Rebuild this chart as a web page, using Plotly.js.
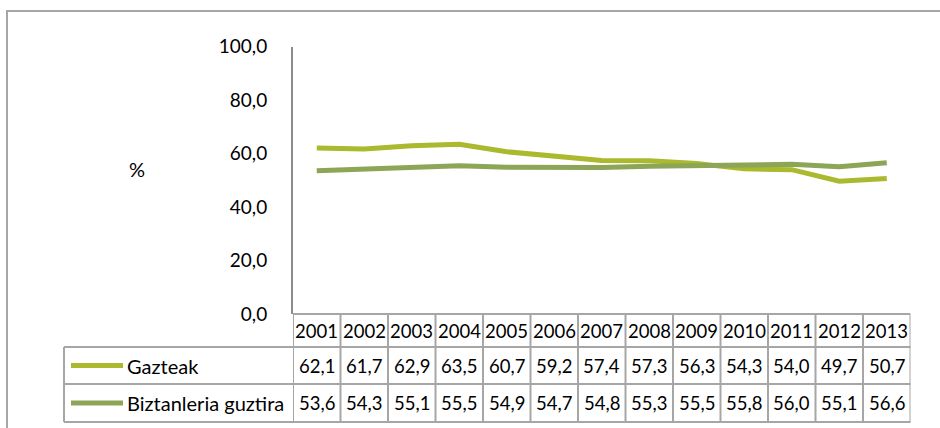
<!DOCTYPE html>
<html>
<head>
<meta charset="utf-8">
<script src="https://cdn.plot.ly/plotly-3.0.1.min.js"></script>
<style>html,body{margin:0;padding:0;background:#fff;}#chart{width:940px;height:428px;}</style>
</head>
<body>
<div id="chart"></div>
<script>
const years = ["2001","2002","2003","2004","2005","2006","2007","2008","2009","2010","2011","2012","2013"];
const seriesNames = ["Gazteak", "Biztanleria guztira"];
const gazteak = [62.1, 61.7, 62.9, 63.5, 60.7, 59.2, 57.4, 57.3, 56.3, 54.3, 54.0, 49.7, 50.7];
const biztanleria = [53.6, 54.3, 55.1, 55.5, 54.9, 54.7, 54.8, 55.3, 55.5, 55.8, 56.0, 55.1, 56.6];
const yTicks = [0, 20, 40, 60, 80, 100];
const yLabel = "%";

const colors = ["#abb92e", "#8da556"];
const seriesValues = [gazteak, biztanleria];
const W = 940, H = 428;
const py = p => (H - p) / H;
const px = p => p / W;
const FONT = "Lato, 'Open Sans', sans-serif";
const fmt = v => v.toFixed(1).replace('.', ',');
const grid = "#a6a6a6";

const idx = years.map((_, i) => i);
const traces = seriesValues.map((vals, s) => ({
  type: "scatter", mode: "lines", x: idx, y: vals, name: seriesNames[s],
  line: {color: colors[s], width: 5}, hoverinfo: "skip", showlegend: false
}));

// table geometry (pixels)
const tTop = 314, r1 = 347, r2 = 384, tBot = 422, legLeft = 64;
const shapes = [];
shapes.push({type: "rect", xref: "paper", yref: "paper", x0: px(7), x1: 1.2, y0: -0.2, y1: py(11), line: {color: grid, width: 2}});
shapes.push({type: "line", xref: "x", yref: "paper", x0: -0.5, x1: years.length - 0.5, y0: py(tTop), y1: py(tTop), line: {color: grid, width: 2}});
[r1, r2, tBot].forEach(p => {
  shapes.push({type: "line", xref: "paper", yref: "paper", x0: px(legLeft), x1: px(910.5), y0: py(p), y1: py(p), line: {color: grid, width: 2}});
});
shapes.push({type: "line", xref: "paper", yref: "paper", x0: px(legLeft), x1: px(legLeft), y0: py(r1), y1: py(tBot), line: {color: grid, width: 2}});
for (let k = 0; k <= years.length; k++) {
  shapes.push({type: "line", xref: "x", yref: "paper", x0: k - 0.5, x1: k - 0.5, y0: py(tTop), y1: py(tBot), line: {color: grid, width: 2}});
}
const rowCenters = [365.5, 403];
rowCenters.forEach((c, s) => {
  shapes.push({type: "line", xref: "paper", yref: "paper", x0: px(71), x1: px(123), y0: py(c), y1: py(c), line: {color: colors[s], width: 5}});
});

const annotations = [];
years.forEach((yr, i) => {
  annotations.push({xref: "x", yref: "paper", x: i, y: py(330.5), text: yr, showarrow: false, xanchor: "center", yanchor: "middle", font: {family: FONT, size: 18.5, color: "#000"}});
  seriesValues.forEach((vals, s) => {
    annotations.push({xref: "x", yref: "paper", x: i, y: py(rowCenters[s]), text: fmt(vals[i]), showarrow: false, xanchor: "center", yanchor: "middle", font: {family: FONT, size: 18.5, color: "#000"}});
  });
});
seriesNames.forEach((n, s) => {
  annotations.push({xref: "paper", yref: "paper", x: px(125), y: py(rowCenters[s]), text: n, showarrow: false, xanchor: "left", yanchor: "middle", font: {family: FONT, size: 20, color: "#000"}});
});
annotations.push({xref: "paper", yref: "paper", x: px(137), y: py(169), text: yLabel, showarrow: false, xanchor: "center", yanchor: "middle", font: {family: FONT, size: 20, color: "#000"}});

const layout = {
  width: W, height: H, margin: {l: 0, r: 0, t: 0, b: 0},
  paper_bgcolor: "#fff", plot_bgcolor: "#fff",
  separators: ",.",
  showlegend: false,
  xaxis: {domain: [px(293), px(910.5)], range: [-0.5, years.length - 0.5], showgrid: false, zeroline: false, showticklabels: false, ticks: "", showline: false, fixedrange: true},
  yaxis: {domain: [py(tTop), py(46.7)], range: [0, 100], tickvals: yTicks, ticktext: yTicks.map(fmt),
    showgrid: false, zeroline: false, showline: true, linecolor: "#8c8c8c", linewidth: 2,
    ticks: "", ticklabelstandoff: 20, tickfont: {family: FONT, size: 19, color: "#000"}, fixedrange: true},
  shapes: shapes, annotations: annotations
};
Plotly.newPlot("chart", traces, layout, {displayModeBar: false, staticPlot: true});
</script>
</body>
</html>
